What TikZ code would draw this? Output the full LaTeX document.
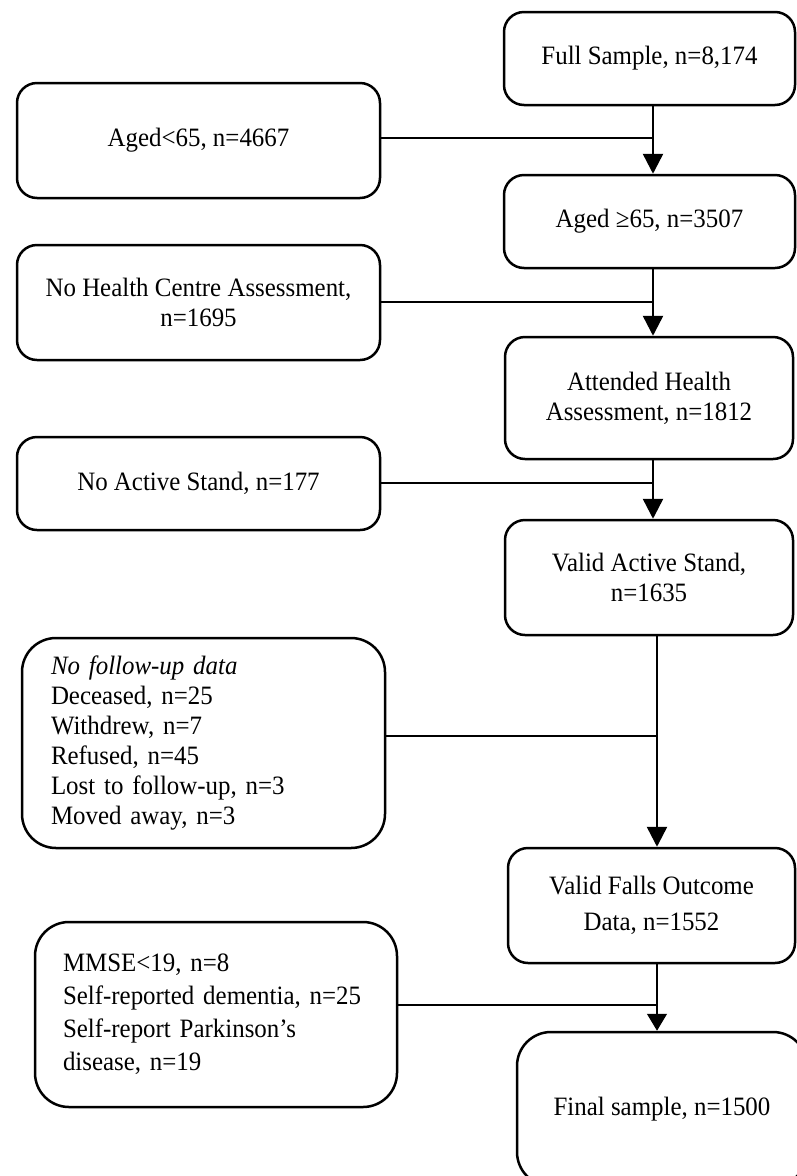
\documentclass[tikz,border=0pt]{standalone}
\usepackage{fontspec}
\setmainfont[FakeStretch=0.94]{Liberation Serif}
\usetikzlibrary{arrows.meta}

\begin{document}
\begin{tikzpicture}[
    x=1pt, y=-1pt,
    every node/.style={font=\fontsize{26.5}{30}\selectfont, align=center},
    box/.style={draw, line width=2.5pt, rounded corners=20pt, inner sep=0pt},
    listbox/.style={box, rounded corners=34pt, align=left, inner xsep=29pt},
    link/.style={line width=2.5pt},
    flow/.style={link, -{Triangle[length=20pt, width=20pt]}}
]
\useasboundingbox (0,0) rectangle (796,1176);
\node[box, minimum width=291pt, minimum height=93pt] (full) at (649.5,58.5) {Full Sample, n=8,174};
\node[box, minimum width=291pt, minimum height=93pt] (aged) at (649.5,221.5) {Aged ≥65, n=3507};
\node[box, minimum width=288pt, minimum height=122pt] (attended) at (649,398) {Attended Health\\Assessment, n=1812};
\node[box, minimum width=288pt, minimum height=115pt] (stand) at (649,577.5) {Valid Active Stand,\\n=1635};
\node[box, minimum width=287pt, minimum height=115pt, font=\fontsize{26.5}{36}\selectfont] (falls) at (651.5,905.5) {Valid Falls Outcome\\Data, n=1552};
\node[box, rounded corners=34pt, minimum width=290pt, minimum height=154pt] (final) at (662,1109) {Final sample, n=1500};

\node[box, minimum width=363pt, minimum height=115pt] (young) at (198.5,140.5) {Aged<65, n=4667};
\node[box, minimum width=363pt, minimum height=115pt] (nohealth) at (198.5,302.5) {No Health Centre Assessment,\\n=1695};
\node[box, minimum width=363pt, minimum height=93pt] (nostand) at (198.5,483.5) {No Active Stand, n=177};
\node[listbox, text width=305pt, minimum height=210pt] (nofollow) at (203.5,743) {\textit{No follow-up data}\\Deceased, n=25\\Withdrew, n=7\\Refused, n=45\\Lost to follow-up, n=3\\Moved away, n=3};
\node[listbox, text width=306pt, inner xsep=28pt, minimum height=185pt, font=\fontsize{26.5}{33}\selectfont] (excluded) at (216,1014.5) {MMSE<19, n=8\\Self-reported dementia, n=25\\Self-report Parkinson’s\\disease, n=19};

\coordinate (j1) at (653,138);
\coordinate (j2) at (653,302);
\coordinate (j3) at (653,483);
\coordinate (j4) at (657,736);
\coordinate (j5) at (657,1005);

\draw[flow] (full.south -| j1) -- (aged.north -| j1);
\draw[flow] (aged.south -| j2) -- (attended.north -| j2);
\draw[flow] (attended.south -| j3) -- (stand.north -| j3);
\draw[flow] (stand.south -| j4) -- (falls.north -| j4);
\draw[flow, line width=1.3pt, -{Triangle[length=17pt, width=20pt]}] (falls.south -| j5) -- (final.north -| j5);
\draw[link] (young.east |- j1) -- (j1);
\draw[link] (nohealth.east |- j2) -- (j2);
\draw[link] (nostand.east |- j3) -- (j3);
\draw[link] (nofollow.east |- j4) -- (j4);
\draw[link] (excluded.east |- j5) -- (j5);
\end{tikzpicture}
\end{document}
